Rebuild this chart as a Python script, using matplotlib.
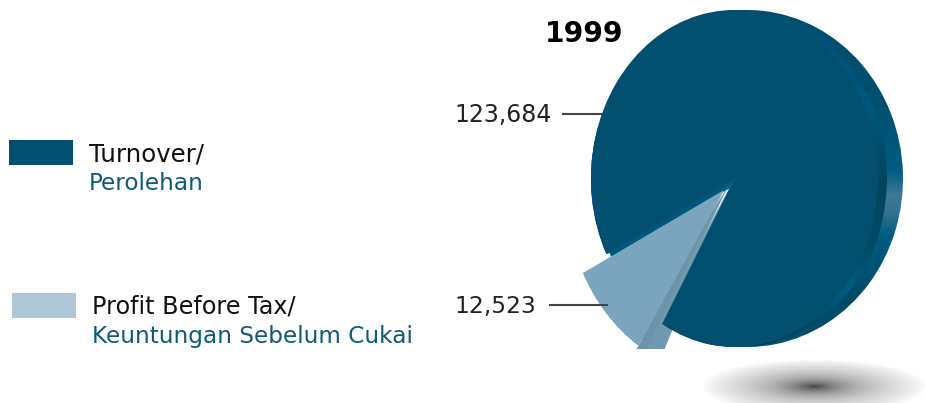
import numpy as np
import matplotlib
matplotlib.use("Agg")
import matplotlib.pyplot as plt
from matplotlib.colors import LinearSegmentedColormap
from matplotlib.patches import Rectangle
from matplotlib.transforms import Affine2D

year = "1999"
values = [123684, 12523]
value_labels = ["123,684", "12,523"]
legend_en = ["Turnover/", "Profit Before Tax/"]
legend_ms = ["Perolehan", "Keuntungan Sebelum Cukai"]

W, H = 926, 403
C_TURN, C_PROFIT, C_KEY2 = "#024f70", "#7ba5bf", "#aec6d6"
C_TEXT2 = "#0f5a78"
CX, CY, RX, RY = 734.5, 178.5, 143.5, 168.5
START = 239.7

fig = plt.figure(figsize=(W / 100, H / 100), dpi=100)
ax = fig.add_axes([0, 0, 1, 1])


def pie(cx=CX, rx=RX, dy=0, explode=None, zorder=2, colors=(C_TURN, C_PROFIT)):
    wedges, _ = ax.pie(values, startangle=START, counterclock=True, explode=explode,
                       colors=colors, wedgeprops=dict(linewidth=0))
    tr = Affine2D().scale(rx, -RY).translate(cx, CY + dy) + ax.transData
    for w in wedges:
        w.set_transform(tr)
        w.set_zorder(zorder)
    return wedges


def gradient(stops, clip, zorder):
    ys, cols = zip(*stops)
    cmap = LinearSegmentedColormap.from_list("g", [(y / H, c) for y, c in zip(ys, cols)])
    im = ax.imshow(np.linspace(0, 1, H).reshape(-1, 1), cmap=cmap, vmin=0, vmax=1,
                   extent=(0, W, H, 0), aspect="auto", zorder=zorder)
    im.set_clip_path(clip)
    return im


# rim layers: ellipses sharing the left, top and bottom of the face
rim = pie(cx=747, rx=156, zorder=1)
rim[1].set_visible(False)
rim[0].set_alpha(0)
bevel = pie(cx=739, rx=148, zorder=1)
bevel[1].set_visible(False)
bevel[0].set_alpha(0)
ax.set_xlim(0, W); ax.set_ylim(H, 0); ax.set_aspect("auto")
gradient([(0, "#00506f"), (100, "#004f70"), (170, "#005c80"), (195, "#3f7b98"), (215, "#2f7090"),
          (235, "#005c80"), (300, "#004a66"), (347, "#005272"), (403, "#005272")], rim[0], 1.1)
gradient([(0, "#024f70"), (60, "#02547a"), (110, "#00587c"), (180, "#00445c"), (250, "#004a66"),
          (290, "#005f82"), (340, "#003f58"), (403, "#003f58")], bevel[0], 1.2)

# inner wall below the turnover face, shrunk so it stays inside the face outline
wall = pie(dy=7, zorder=2, colors=("#00587c", C_PROFIT))
wall[1].set_visible(False)
wall[0].set_radius(0.958)

# exploded slice side walls, then its face
side = pie(zorder=3, colors=(C_TURN, "#7099b0"))
side[0].set_visible(False)
side[1].set_radius(1.25)
side[1].set_theta1(START - 2)
side[1].set_theta2(START + 4.6)
fill = pie(explode=[0, 0.05], zorder=3.2, colors=(C_TURN, "#7099b0"))
fill[0].set_visible(False)
fill[1].set_radius(1.1)
fill[1].set_theta1(START - 6)
fill[1].set_theta2(START + 0.5)
stripe = pie(explode=[0, 0.1], zorder=3.5, colors=(C_TURN, "#6c93a9"))
stripe[0].set_visible(False)
stripe[1].set_radius(1.25)
stripe[1].set_theta1(START - 2.5)
stripe[1].set_theta2(START + 0.5)

face = pie(zorder=4)
face[1].set_visible(False)
front = pie(explode=[0, 0.1], zorder=5)
front[0].set_visible(False)
front[1].set_radius(1.10)
front[1].set_theta2(START - 2.5)

# the slice is cut off flat along the bottom of the picture area
ax.add_patch(Rectangle((560, 349), 140, H - 349, fc="white", ec="none", zorder=5.5))

# floating shadow
yy, xx = np.mgrid[0:H, 0:W]
d = np.clip(1 - np.sqrt(((xx - 814) / 113) ** 2 + ((yy - 386) / 27) ** 2), 0, 1)
rgba = np.zeros((H, W, 4))
rgba[..., 3] = 0.38 * d ** 0.8 + 0.34 * d ** 4
ax.imshow(rgba, extent=(0, W, H, 0), aspect="auto", zorder=0.5, interpolation="bilinear")

ax.set_xlim(0, W); ax.set_ylim(H, 0); ax.set_aspect("auto")
ax.axis("off")

# legend keys
ax.add_patch(Rectangle((9, 140), 64, 25, fc=C_TURN, ec="none", zorder=6))
ax.add_patch(Rectangle((12, 293), 64, 25, fc=C_KEY2, ec="none", zorder=6))

font = dict(family="DejaVu Sans", va="baseline", zorder=7)
ax.text(89, 161, legend_en[0], fontsize=17.6, color="#111111", **font)
ax.text(89, 190, legend_ms[0], fontsize=16.7, color=C_TEXT2, **font)
ax.text(92, 314, legend_en[1], fontsize=17.2, color="#111111", **font)
ax.text(92, 343, legend_ms[1], fontsize=16.65, color=C_TEXT2, **font)
ax.text(454, 122, value_labels[0], fontsize=17.0, color="#222222", **font)
ax.text(454, 313, value_labels[1], fontsize=16.8, color="#222222", **font)
ax.text(545, 42, year, fontsize=20.3, fontweight="bold", color="black", **font)

# leader lines
ax.plot([562, 602], [114, 114], color="#444444", lw=1.5, zorder=7, solid_capstyle="butt")
ax.plot([549, 608], [305, 305], color="#444444", lw=1.5, zorder=7, solid_capstyle="butt")

fig.savefig("out.png", dpi=100, facecolor="white")
